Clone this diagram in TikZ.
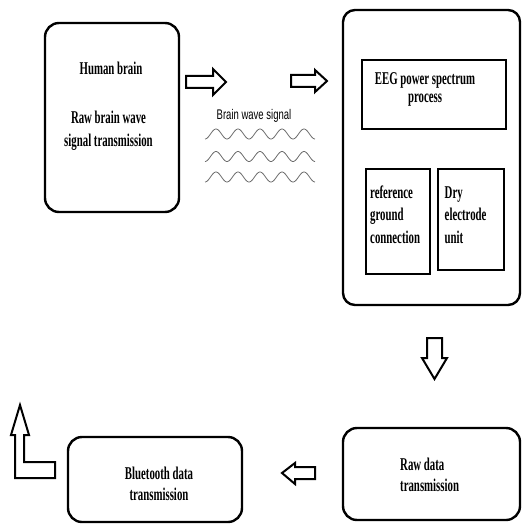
\documentclass[tikz,border=0pt]{standalone}
\usepackage{fontspec}
\newfontfamily\boxfont[FakeStretch=0.6]{Liberation Serif}
\newfontfamily\wavefont[FakeStretch=0.68]{Liberation Sans}
\tikzset{
  outerbox/.style={draw, line width=2.4pt, rounded corners=14pt, inner sep=0pt},
  innerbox/.style={draw, line width=2.8pt, inner sep=0pt},
  boxtext/.style={font=\boxfont\bfseries\fontsize{18}{#1}\selectfont, inner sep=0pt},
  boxtext/.default=23.4,
  blockarrow/.style={draw, line width=2pt, line join=miter, fill=white},
  wave/.style={gray!85!black, line width=0.8pt},
}
\begin{document}
\begin{tikzpicture}[x=1pt,y=-1pt]
  \useasboundingbox (0,0) rectangle (522,524);

  % brain block
  \node[outerbox, minimum width=134pt, minimum height=189pt] (brain) at (112,117.5) {};
  \node[boxtext, anchor=base] (brainname) at (111,75) {Human brain};
  \node[boxtext, align=center, anchor=base] (brainraw) at (108.5,146.7) {Raw brain wave\\signal transmission};

  % headset block
  \node[outerbox, rounded corners=12pt, minimum width=177pt, minimum height=295pt] (headset) at (431.5,157.5) {};
  \node[innerbox, minimum width=144pt, minimum height=69pt] (eeg) at (434,94.5) {};
  \node[boxtext=18.7, align=center, anchor=base] (eeglbl) at (425,102.7) {EEG power spectrum\\process};
  \node[innerbox, minimum width=64pt, minimum height=105pt] (ref) at (398,221.5) {};
  \node[boxtext=22.5, align=left, anchor=base west] (reflbl) at (370,243.3) {reference\\ground\\connection};
  \node[innerbox, minimum width=66pt, minimum height=101pt] (dry) at (471,219.5) {};
  \node[boxtext=22.5, align=left, anchor=base west] (drylbl) at (444.5,243.3) {Dry\\electrode\\unit};

  % lower blocks
  \node[outerbox, minimum width=177pt, minimum height=92pt] (rawdata) at (431.5,474) {};
  \node[boxtext=21.7, align=left, anchor=base west] (rawlbl) at (400,491.7) {Raw data\\transmission};
  \node[outerbox, minimum width=174pt, minimum height=85pt] (bt) at (155,479.5) {};
  \node[boxtext=21.5, align=center, anchor=base] (btlbl) at (159,500.5) {Bluetooth data\\transmission};

  % wave signal
  \node[font=\wavefont\fontsize{14}{14}\selectfont, inner sep=0pt, anchor=base] (wavelbl) at (254,119.5) {Brain wave signal};
  \foreach \wy in {134,156.5,177}
    \draw[wave] plot[domain=205:315, samples=120, smooth] (\x,{\wy+5*cos(16.3636*(\x-205))});

  % block arrows
  \draw[blockarrow] (186,76) -- (213,76) -- (213,69) -- (226,82) -- (213,95) -- (213,88) -- (186,88) -- cycle;
  \draw[blockarrow] (291,75) -- (315,75) -- (315,70) -- (327,81) -- (315,92) -- (315,87) -- (291,87) -- cycle;
  \draw[blockarrow] (427,338) -- (442,338) -- (442,358) -- (447,358) -- (434.5,379) -- (422,358) -- (427,358) -- cycle;
  \draw[blockarrow] (315,467) -- (295,467) -- (295,463) -- (282,473) -- (295,484) -- (295,479) -- (315,479) -- cycle;
  \draw[blockarrow] (20,405) -- (29,435) -- (24,435) -- (24,462) -- (55,462) -- (55,478) -- (15,478) -- (15,435) -- (11,435) -- cycle;
\end{tikzpicture}
\end{document}
